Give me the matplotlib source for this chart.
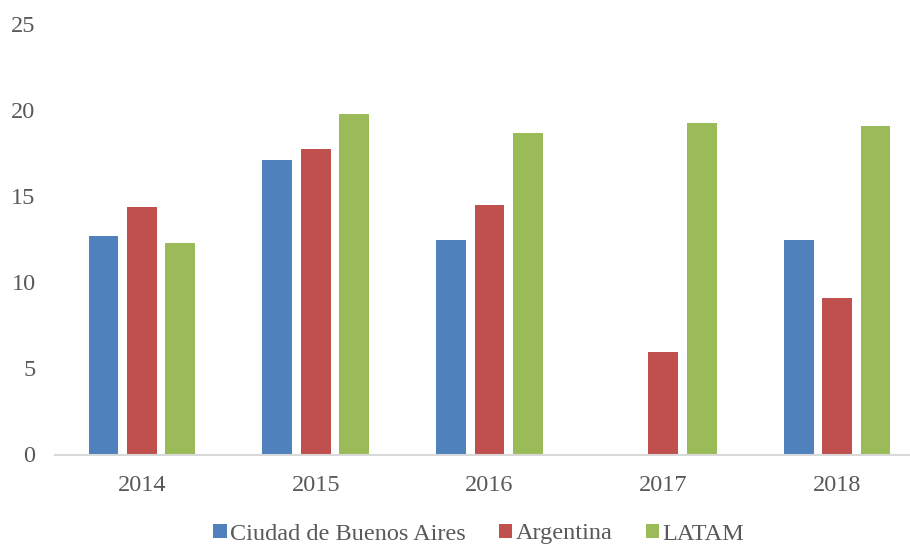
import matplotlib
matplotlib.use("Agg")
import matplotlib.pyplot as plt
import numpy as np

years = ["2014", "2015", "2016", "2017", "2018"]
series_names = ["Ciudad de Buenos Aires", "Argentina", "LATAM"]
caba = [12.7, 17.1, 12.5, 0, 12.5]
argentina = [14.4, 17.75, 14.5, 5.95, 9.1]
latam = [12.3, 19.8, 18.7, 19.3, 19.1]
colors = ["#4F81BD", "#C0504D", "#9BBB59"]
yticks = [0, 5, 10, 15, 20, 25]

plt.rcParams['font.family'] = ['Liberation Serif', 'DejaVu Serif']

fig = plt.figure(figsize=(9.10, 5.44), dpi=100)
ax = fig.add_axes([55/910, (544-454.5)/544, 869/910, 430/544])

x = np.arange(len(years))
width = 0.172
step = 0.221
for i, (vals, name, c) in enumerate(zip([caba, argentina, latam], series_names, colors)):
    ax.bar(x + (i - 1) * step, vals, width, color=c, label=name, zorder=2)

ax.set_xlim(-0.5, len(years) - 0.5)
ax.set_ylim(0, 25)
ax.set_yticks(yticks)
ax.set_yticklabels([str(t) for t in yticks])
ax.set_xticks(x)
ax.set_xticklabels(years)

for s in ["top", "right", "left"]:
    ax.spines[s].set_visible(False)
ax.spines["bottom"].set_color("#D9D9D9")
ax.spines["bottom"].set_linewidth(1.5)
ax.spines["bottom"].set_zorder(3)
ax.tick_params(axis="y", length=0, pad=14, labelsize=17.5, labelcolor="#595959")
ax.tick_params(axis="x", length=0, pad=15, labelsize=17.5, labelcolor="#595959")

leg = fig.legend(loc="center", bbox_to_anchor=(479/910, 10/544), ncol=3, frameon=False,
                 fontsize=17.5, handlelength=0.55, handleheight=0.55, handletextpad=0.15,
                 columnspacing=1.35, labelcolor="#595959")

fig.savefig("out.png", dpi=100)
